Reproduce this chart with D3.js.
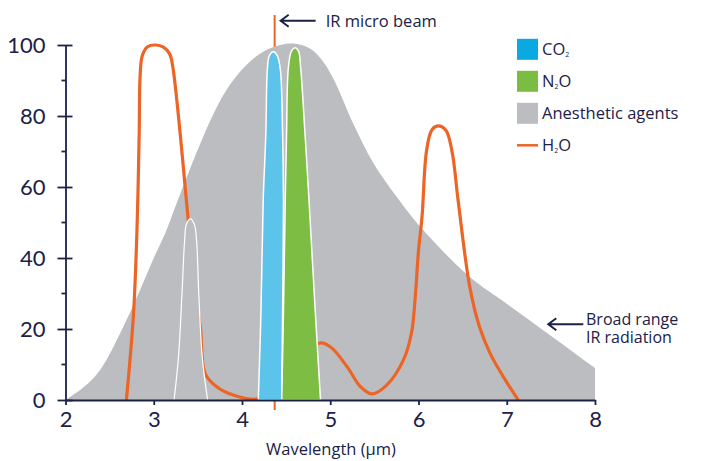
<html>
<head>
<script src="https://d3js.org/d3.v7.min.js"></script>
<style>
  body { margin: 0; background: #fff; }
  text { font-family: 'Open Sans', sans-serif; fill: #1b2147; }
</style>
</head>
<body>
<script>

var width = 702;
var height = 461;

// broad range IR radiation (grey area)
var broadWl  = [2, 2.2, 2.39, 2.69, 2.88, 3.0, 3.13, 3.2, 3.3, 3.49, 3.675, 3.86, 4.05, 4.24, 4.43, 4.58, 4.77, 4.92, 5.05, 5.26, 5.49, 5.75, 6.02, 6.58, 7.0, 7.5, 8];
var broadVal = [0, 3.5, 8.4, 22.5, 33, 40, 47, 51.5, 58, 70, 80.5, 88.7, 94.4, 98.1, 100, 100.4, 99, 95.3, 89.8, 77.9, 66.7, 57.3, 48.8, 34.7, 27.1, 18.1, 9];

// anesthetic agent peak
var agentWl  = [3.23, 3.28, 3.32, 3.35, 3.37, 3.415, 3.46, 3.485, 3.51, 3.55, 3.61];
var agentVal = [0, 12, 30, 45, 49.5, 51, 49.5, 45, 30, 12, 0];

// CO2 band outline
var co2Wl  = [4.185, 4.215, 4.24, 4.27, 4.287, 4.31, 4.355, 4.40, 4.435, 4.46, 4.47, 4.46, 4.45];
var co2Val = [0, 25, 56, 75, 93, 97, 98.1, 97, 93, 75, 56, 25, 0];

// N2O band outline
var n2oWl  = [4.45, 4.47, 4.49, 4.505, 4.525, 4.56, 4.60, 4.64, 4.665, 4.714, 4.76, 4.83, 4.89];
var n2oVal = [0, 25, 56, 75, 93.5, 98.3, 99.2, 98.3, 93.5, 75, 56, 25, 0];

// H2O absorption line
var h2oWl  = [2.69, 2.77, 2.81, 2.835, 2.845, 2.87, 2.93, 3.02, 3.11, 3.18, 3.215, 3.39, 3.47, 3.53, 3.58, 3.71, 3.9, 4.18, 4.5, 4.87, 5.0, 5.19, 5.34, 5.47, 5.64, 5.83, 5.92, 5.96, 6.0, 6.04, 6.09, 6.15, 6.22, 6.31, 6.38, 6.45, 6.58, 6.69, 6.81, 6.96, 7.13];
var h2oVal = [0, 24, 48, 75, 91, 97, 99.5, 100, 99.4, 97.5, 94, 51, 30, 20, 7.6, 3.8, 1.4, 0.3, 5, 16, 15, 9.4, 3.8, 1.7, 4.2, 11.3, 18.8, 28, 42, 51.6, 70, 76, 77.2, 76, 70, 56, 32, 20.7, 13.2, 6.6, 0];

var beamWl = 4.37;

var xTicks = [2, 3, 4, 5, 6, 7, 8];
var yTicks = [0, 20, 40, 60, 80, 100];
var yMinor = [10, 30, 50, 70, 90];

var legendItems = [
  {base: 'CO', sub: '2', tail: '', color: '#0ba9e1', kind: 'box'},
  {base: 'N', sub: '2', tail: 'O', color: '#7bbd42', kind: 'box'},
  {base: 'Anesthetic agents', sub: '', tail: '', color: '#bcbdc0', kind: 'box'},
  {base: 'H', sub: '2', tail: 'O', color: '#ec6526', kind: 'line'}
];

var navy = '#1b2147';
var orange = '#ec6526';
var grey = '#bcbdc0';

var svg = d3.select('body').append('svg')
  .attr('width', width)
  .attr('height', height);

var x = d3.scaleLinear().domain([2, 8]).range([65.5, 595]);
var y = d3.scaleLinear().domain([0, 100]).range([400, 45]);

function zip(a, b) {
  return a.map(function(d, i) { return [d, b[i]]; });
}

// micro beam line, sits behind everything
svg.append('line')
  .attr('x1', x(beamWl)).attr('x2', x(beamWl))
  .attr('y1', 15).attr('y2', y(0) + 10)
  .style('stroke', orange)
  .style('stroke-width', 2);

var area = d3.area()
  .x(function(d) { return x(d[0]); })
  .y0(y(0))
  .y1(function(d) { return y(d[1]); })
  .curve(d3.curveCatmullRom.alpha(0.5));

svg.append('path')
  .datum(zip(broadWl, broadVal))
  .style('fill', grey)
  .attr('d', area);

var line = d3.line()
  .x(function(d) { return x(d[0]); })
  .y(function(d) { return y(d[1]); })
  .curve(d3.curveCatmullRom.alpha(0.5));

svg.append('path')
  .datum(zip(h2oWl, h2oVal))
  .style('fill', 'none')
  .style('stroke', orange)
  .style('stroke-width', 3.2)
  .style('stroke-linejoin', 'round')
  .attr('d', line);

svg.append('path')
  .datum(zip(agentWl, agentVal))
  .style('fill', grey)
  .style('stroke', '#fff')
  .style('stroke-width', 1.2)
  .attr('d', line);

svg.append('path')
  .datum(zip(co2Wl, co2Val))
  .style('fill', '#5cc4ea')
  .style('stroke', '#fff')
  .style('stroke-width', 1.5)
  .attr('d', function(d) { return line(d) + 'Z'; });

svg.append('path')
  .datum(zip(n2oWl, n2oVal))
  .style('fill', '#7dbd43')
  .style('stroke', '#fff')
  .style('stroke-width', 1.5)
  .attr('d', function(d) { return line(d) + 'Z'; });

// axes
var xAxis = svg.append('g')
  .attr('transform', 'translate(0,' + y(0) + ')')
  .call(d3.axisBottom(x).tickValues(xTicks).tickFormat(d3.format('d'))
    .tickSizeInner(5).tickSizeOuter(0).tickPadding(6));

var yAxis = svg.append('g')
  .attr('transform', 'translate(' + x(2) + ',0)')
  .call(d3.axisLeft(y).tickValues(yTicks).tickSizeInner(8).tickSizeOuter(0).tickPadding(12));

yAxis.selectAll('.tick line').attr('x1', 7);

yAxis.selectAll('.minor')
  .data(yMinor)
  .enter().append('line')
  .attr('class', 'minor')
  .attr('x1', -4).attr('x2', 0)
  .attr('y1', function(d) { return y(d); })
  .attr('y2', function(d) { return y(d); });

[xAxis, yAxis].forEach(function(g) {
  g.selectAll('path, line').style('stroke', navy).style('stroke-width', 1.8);
  g.selectAll('text')
    .style('font-family', 'Lato, sans-serif')
    .style('font-size', '22px')
    .style('fill', navy);
});

svg.append('text')
  .attr('x', 331)
  .attr('y', 455)
  .attr('text-anchor', 'middle')
  .style('font-size', '16.5px')
  .text('Wavelength (μm)');

// annotations
function leftArrow(x0, x1, yy) {
  svg.append('path')
    .attr('d', 'M' + x0 + ',' + yy + 'H' + x1 + 'M' + (x0 + 8) + ',' + (yy - 6) + 'L' + x0 + ',' + yy + 'L' + (x0 + 8) + ',' + (yy + 6))
    .style('fill', 'none')
    .style('stroke', navy)
    .style('stroke-width', 2);
}

leftArrow(x(beamWl) + 6, x(beamWl) + 41, 20.7);
svg.append('text')
  .attr('x', x(beamWl) + 51)
  .attr('y', 27)
  .style('font-size', '16.5px')
  .text('IR micro beam');

leftArrow(548.3, 583.3, 324.3);
svg.append('text')
  .attr('x', 586)
  .attr('y', 325)
  .style('font-size', '16px')
  .text('Broad range');
svg.append('text')
  .attr('x', 586)
  .attr('y', 343)
  .style('font-size', '16px')
  .text('IR radiation');

// legend
var legend = svg.append('g');
legendItems.forEach(function(d, i) {
  var cy = 49.3 + i * 32;
  if (d.kind === 'box') {
    legend.append('rect')
      .attr('x', 517).attr('y', cy - 10.5)
      .attr('width', 21).attr('height', 21)
      .style('fill', d.color);
  } else {
    legend.append('line')
      .attr('x1', 517).attr('x2', 538)
      .attr('y1', cy).attr('y2', cy)
      .style('stroke', d.color)
      .style('stroke-width', 2.5);
  }
  var t = legend.append('text')
    .attr('x', 542)
    .attr('y', cy + 6)
    .style('font-size', '16.5px');
  t.append('tspan').text(d.base);
  if (d.sub) {
    t.append('tspan').attr('dy', 2).style('font-size', '7px').text(d.sub);
    if (d.tail) t.append('tspan').attr('dy', -2).text(d.tail);
  }
});

</script>
</body>
</html>
